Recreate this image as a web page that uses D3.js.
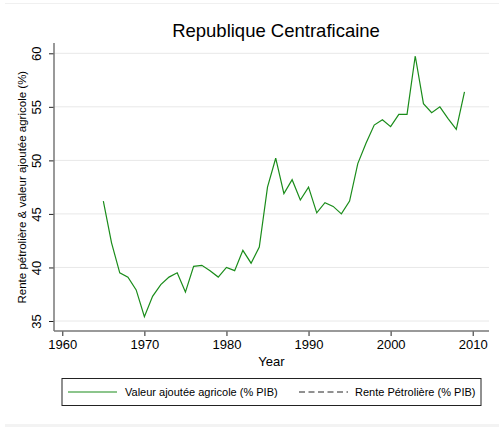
<!DOCTYPE html>
<html>
<head>
<meta charset="utf-8">
<script src="https://cdn.jsdelivr.net/npm/d3@7"></script>
<style>
  body { margin: 0; background: #fff; }
  text { font-family: "Liberation Sans", Arial, sans-serif; }
</style>
</head>
<body>
<div id="chart"></div>
<script>
// data
var years = [1965, 1966, 1967, 1968, 1969, 1970, 1971, 1972, 1973, 1974,
             1975, 1976, 1977, 1978, 1979, 1980, 1981, 1982, 1983, 1984,
             1985, 1986, 1987, 1988, 1989, 1990, 1991, 1992, 1993, 1994,
             1995, 1996, 1997, 1998, 1999, 2000, 2001, 2002, 2003, 2004,
             2005, 2006, 2007, 2008, 2009]
var agri = [46.2, 42.3, 39.5, 39.1, 37.9, 35.4, 37.3, 38.4, 39.1, 39.5,
            37.7, 40.1, 40.2, 39.7, 39.1, 40.0, 39.7, 41.6, 40.4, 41.9,
            47.5, 50.2, 46.9, 48.2, 46.3, 47.5, 45.1, 46.05, 45.7, 45.0,
            46.2, 49.7, 51.6, 53.3, 53.8, 53.15, 54.3, 54.3, 59.75, 55.3,
            54.45, 55.0, 53.9, 52.9, 56.4]
var rente = []   // no values for this country
var xTicks = [1960, 1970, 1980, 1990, 2000, 2010]
var yTicks = [35, 40, 45, 50, 55, 60]
var seriesNames = ["Valeur ajoutée agricole (% PIB)", "Rente Pétrolière (% PIB)"]

var W = 499, H = 427
var svg = d3.select("#chart").append("svg")
    .attr("width", W).attr("height", H)

// faint frame lines of the graph region
svg.append("line").attr("x1", 5).attr("x2", W).attr("y1", 3.5).attr("y2", 3.5)
    .attr("stroke", "#f0f0f0")
svg.append("rect").attr("x", 5).attr("y", 424).attr("width", W - 5).attr("height", 3)
    .attr("fill", "#f3f3f3")

var plot = { left: 54, right: 489, top: 43, bottom: 331 }

var x = d3.scaleLinear().domain([1960, 2010]).range([62.3, 472.7])
var y = d3.scaleLinear().domain([35, 60]).range([321, 53.3])

// gridlines
svg.append("g").selectAll("line")
    .data(yTicks).enter().append("line")
    .attr("x1", plot.left).attr("x2", plot.right)
    .attr("y1", function (d) { return y(d) }).attr("y2", function (d) { return y(d) })
    .attr("stroke", "#e8e8e8").attr("stroke-width", 1)

// Y axis
var yAxis = svg.append("g")
    .attr("transform", "translate(" + plot.left + ",0)")
    .call(d3.axisLeft(y).tickValues(yTicks).tickSize(5).tickPadding(9))
yAxis.select(".domain").remove()
yAxis.append("line").attr("x1", 0).attr("x2", 0)
    .attr("y1", plot.top).attr("y2", plot.bottom).attr("stroke", "#777").attr("stroke-width", 1.5)
yAxis.selectAll(".tick line").attr("stroke", "#222")
yAxis.selectAll(".tick text")
    .attr("font-size", 13).attr("fill", "#000")
    .attr("transform", function () { return "rotate(-90," + (-14) + ",0)" })
    .attr("x", -14).attr("dy", "0.35em").attr("text-anchor", "middle")
    .attr("transform", "rotate(-90,-14,0) translate(0,-4)")

// X axis
var xAxis = svg.append("g")
    .attr("transform", "translate(0," + plot.bottom + ")")
    .call(d3.axisBottom(x).tickValues(xTicks).tickFormat(d3.format("d")).tickSize(5).tickPadding(4))
xAxis.select(".domain").remove()
xAxis.append("line").attr("x1", plot.left).attr("x2", plot.right)
    .attr("y1", 0).attr("y2", 0).attr("stroke", "#777").attr("stroke-width", 1.5)
xAxis.selectAll(".tick line").attr("stroke", "#222")
xAxis.selectAll(".tick text").attr("font-size", 13).attr("fill", "#000")

// titles
svg.append("text").attr("x", 276).attr("y", 37)
    .attr("text-anchor", "middle").attr("font-size", 18.5)
    .text("Republique Centraficaine")
svg.append("text").attr("x", (plot.left + plot.right) / 2).attr("y", 366)
    .attr("text-anchor", "middle").attr("font-size", 13)
    .text("Year")
svg.append("text")
    .attr("transform", "translate(26," + ((y(35) + y(60)) / 2) + ") rotate(-90)")
    .attr("text-anchor", "middle").attr("font-size", 11.5)
    .text("Rente pétrolière & valeur ajoutée agricole (%)")

// lines
var line = d3.line()
    .x(function (d) { return x(d[0]) })
    .y(function (d) { return y(d[1]) })
svg.append("path")
    .datum(d3.zip(years, agri))
    .attr("d", line)
    .attr("fill", "none").attr("stroke", "#1a8c1a").attr("stroke-width", 1.2)
if (rente.length) {
    svg.append("path")
        .datum(d3.zip(years, rente))
        .attr("d", line)
        .attr("fill", "none").attr("stroke", "#222").attr("stroke-dasharray", "5,3")
}

// legend
var lg = svg.append("g")
lg.append("rect").attr("x", 62).attr("y", 378.5).attr("width", 419).attr("height", 27)
    .attr("fill", "#fff").attr("stroke", "#222").attr("stroke-width", 1)
lg.append("line").attr("x1", 68).attr("x2", 117).attr("y1", 392).attr("y2", 392)
    .attr("stroke", "#1a8c1a").attr("stroke-width", 1.2)
lg.append("text").attr("x", 125).attr("y", 396).attr("font-size", 11).text(seriesNames[0])
lg.append("line").attr("x1", 299).attr("x2", 348).attr("y1", 392).attr("y2", 392)
    .attr("stroke", "#222").attr("stroke-width", 1).attr("stroke-dasharray", "6,3.5")
lg.append("text").attr("x", 355).attr("y", 396).attr("font-size", 11).text(seriesNames[1])
</script>
</body>
</html>
